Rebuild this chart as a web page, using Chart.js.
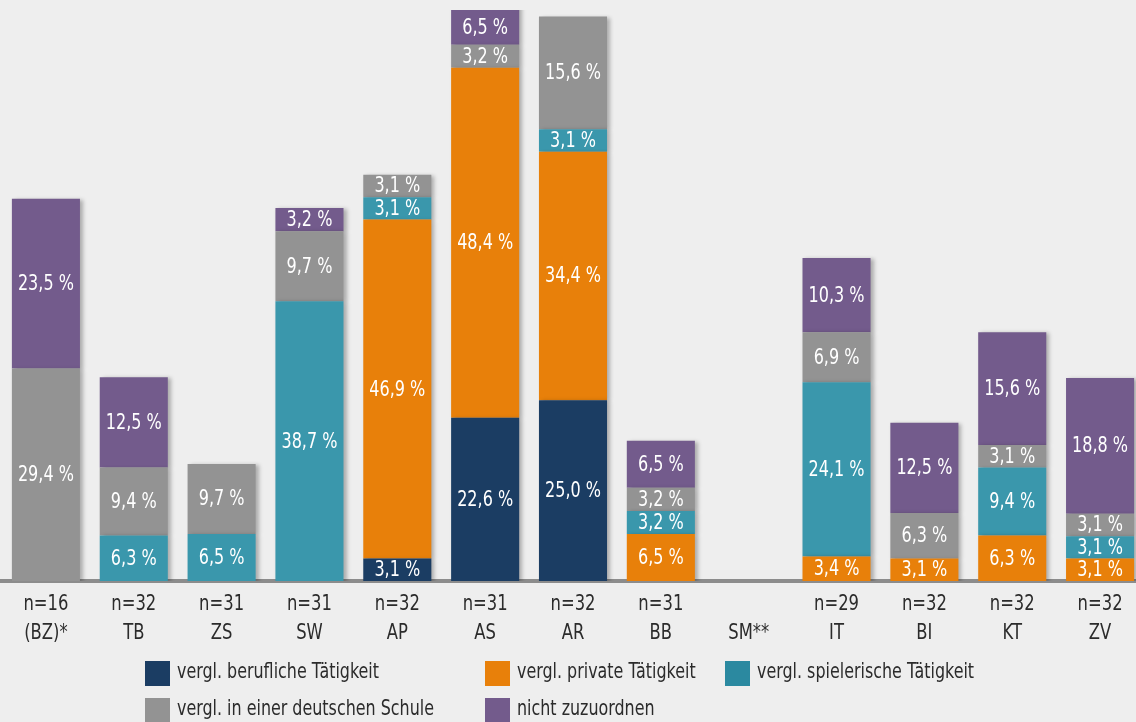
<!DOCTYPE html>
<html lang="de">
<head>
<meta charset="utf-8">
<title>Vergleichbare Tätigkeiten</title>
<script src="https://cdn.jsdelivr.net/npm/chart.js@4"></script>
<style>
  html, body { margin: 0; padding: 0; background: #eeeeee; overflow: hidden; }
  #wrap { width: 1136px; height: 722px; overflow: hidden; }
</style>
</head>
<body>
<div id="wrap">
  <canvas id="myChart" width="1144" height="722"></canvas>
</div>
<script>
const categories = [
    ['n=16', '(BZ)*'], ['n=32', 'TB'], ['n=31', 'ZS'], ['n=31', 'SW'], ['n=32', 'AP'],
    ['n=31', 'AS'], ['n=32', 'AR'], ['n=31', 'BB'], ['', 'SM**'], ['n=29', 'IT'],
    ['n=32', 'BI'], ['n=32', 'KT'], ['n=32', 'ZV']
];

const seriesNames = [
    'vergl. berufliche Tätigkeit',
    'vergl. private Tätigkeit',
    'vergl. spielerische Tätigkeit',
    'vergl. in einer deutschen Schule',
    'nicht zuzuordnen'
];

// Prozentwerte je Kategorie (null = kein Anteil)
const beruflich   = [null, null, null, null, 3.1, 22.6, 25.0, null, null, null, null, null, null];
const privat      = [null, null, null, null, 46.9, 48.4, 34.4, 6.5, null, 3.4, 3.1, 6.3, 3.1];
const spielerisch = [null, 6.3, 6.5, 38.7, 3.1, null, 3.1, 3.2, null, 24.1, null, 9.4, 3.1];
const schule      = [29.4, 9.4, 9.7, 9.7, 3.1, 3.2, 15.6, 3.2, null, 6.9, 6.3, 3.1, 3.1];
const nichtZuord  = [23.5, 12.5, null, 3.2, null, 6.5, null, 6.5, null, 10.3, 12.5, 15.6, 18.8];

const colors = ['#1b3d63', '#e8800a', '#3a97ac', '#939393', '#735b8c'];
const legendColors = ['#1b3d63', '#e8800a', '#2b89a0', '#939393', '#735b8c'];

const FONT = '"DejaVu Sans Condensed", "DejaVu Sans", sans-serif';
const TEXT_COLOR = '#2b2b2b';

// schmal gezeichneter Text (die Vorlage nutzt eine Condensed-Schrift)
function narrowText(c, text, x, y, sx) {
    c.save();
    c.translate(x, y);
    c.scale(sx, 1);
    c.fillText(text, 0, 0);
    c.restore();
}

// Schatten rechts neben den Balken
const shadowPlugin = {
    id: 'barShadow',
    beforeDatasetDraw(chart) {
        const c = chart.ctx;
        c.save();
        c.shadowColor = 'rgba(0,0,0,0.28)';
        c.shadowOffsetX = 3;
        c.shadowOffsetY = 1;
        c.shadowBlur = 4;
    },
    afterDatasetDraw(chart) {
        chart.ctx.restore();
    }
};

// Werte in die Balken schreiben
const valueLabels = {
    id: 'valueLabels',
    afterDatasetsDraw(chart) {
        const c = chart.ctx;
        c.save();
        c.fillStyle = '#ffffff';
        c.font = '21px ' + FONT;
        c.textAlign = 'center';
        c.textBaseline = 'middle';
        const sx = 56 / c.measureText('23,5 %').width;
        chart.data.datasets.forEach((ds, i) => {
            const meta = chart.getDatasetMeta(i);
            meta.data.forEach((bar, j) => {
                const v = ds.data[j];
                if (v == null) return;
                const top = Math.max(bar.y, chart.chartArea.top);
                const y = (top + bar.base) / 2 + 1;
                narrowText(c, v.toFixed(1).replace('.', ',') + ' %', bar.x, y, sx);
            });
        });
        c.restore();
    }
};

// Kategorienbeschriftung (zweizeilig) unter der Achse
const categoryLabels = {
    id: 'categoryLabels',
    afterDraw(chart) {
        const c = chart.ctx;
        const xs = chart.scales.x;
        const base = chart.chartArea.bottom;
        c.save();
        c.fillStyle = TEXT_COLOR;
        c.font = '21px ' + FONT;
        c.textAlign = 'center';
        c.textBaseline = 'middle';
        const sx = 45 / c.measureText('n=32').width;
        categories.forEach((lines, i) => {
            const x = xs.getPixelForValue(i);
            narrowText(c, lines[0], x, base + 24, sx);
            narrowText(c, lines[1], x, base + 53, sx);
        });
        c.restore();
    }
};

// Legende in drei Spalten
const gridLegend = {
    id: 'gridLegend',
    afterDraw(chart) {
        const c = chart.ctx;
        const colX = [145, 485, 725];
        const rowY = [661, 698];
        c.save();
        c.font = '21px ' + FONT;
        c.textBaseline = 'middle';
        c.textAlign = 'left';
        const sx = 202 / c.measureText(seriesNames[0]).width;
        seriesNames.forEach((name, i) => {
            const x = colX[i % 3];
            const y = rowY[Math.floor(i / 3)];
            c.fillStyle = legendColors[i];
            c.fillRect(x, y, 25, 25);
            c.fillStyle = TEXT_COLOR;
            narrowText(c, name, x + 32, y + 12, sx);
        });
        c.restore();
    }
};

const allSeries = [beruflich, privat, spielerisch, schule, nichtZuord];

const ctx = document.getElementById('myChart').getContext('2d');
const myChart = new Chart(ctx, {
    type: 'bar',
    data: {
        labels: categories.map(l => l.join(' ')),
        datasets: allSeries.map((vals, i) => ({
            label: seriesNames[i],
            data: vals,
            backgroundColor: colors[i],
            borderWidth: 0,
            categoryPercentage: 1,
            barPercentage: 0.775
        }))
    },
    options: {
        responsive: false,
        animation: false,
        layout: {
            padding: { left: 2, right: 0, top: 10, bottom: 133 }
        },
        scales: {
            x: {
                stacked: true,
                grid: { display: false },
                border: { display: true, color: '#8c8c8c', width: 4 },
                ticks: { display: false, padding: 0 }
            },
            y: {
                stacked: true,
                display: false,
                min: 0,
                max: 79
            }
        },
        plugins: {
            legend: { display: false },
            tooltip: { enabled: false }
        }
    },
    plugins: [shadowPlugin, valueLabels, categoryLabels, gridLegend]
});
</script>
</body>
</html>
